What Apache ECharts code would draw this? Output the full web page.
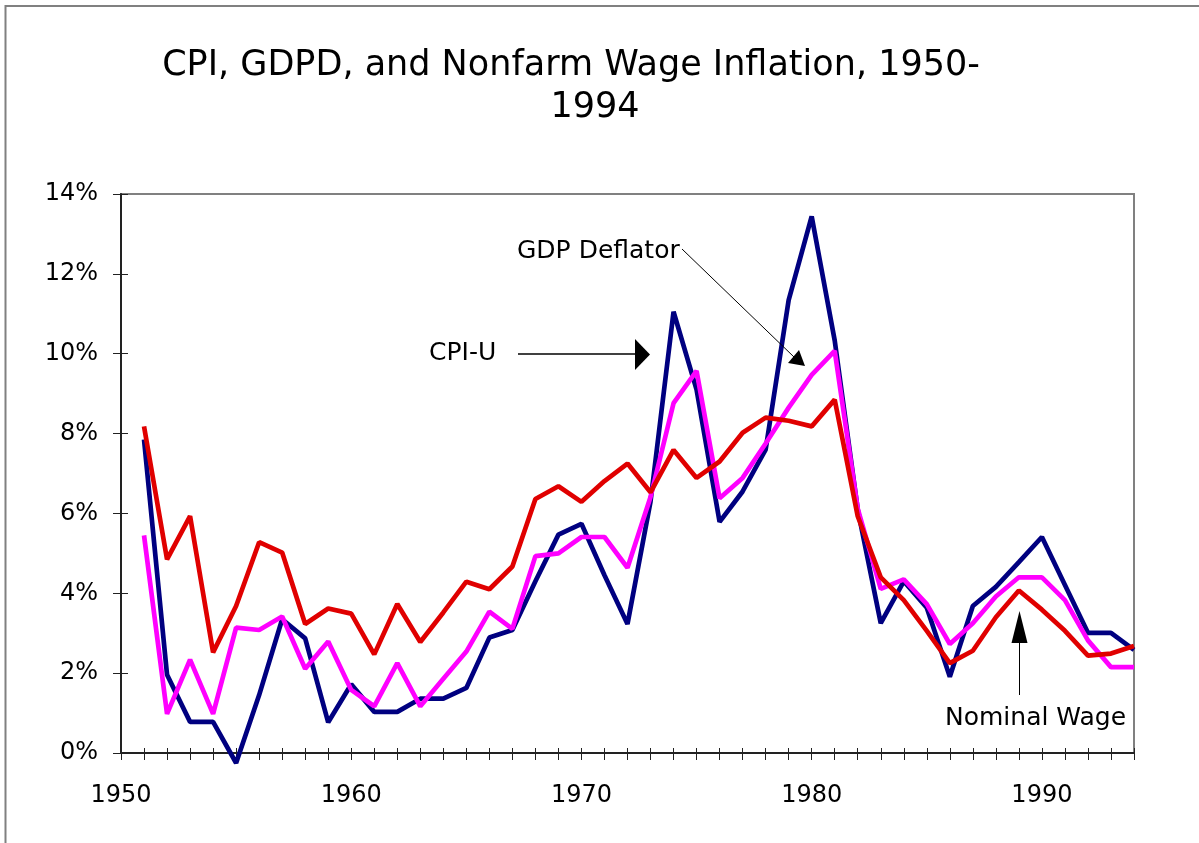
<!DOCTYPE html>
<html>
<head>
<meta charset="utf-8">
<script src="https://cdn.jsdelivr.net/npm/echarts@6/dist/echarts.min.js"></script>
<style>
html,body{margin:0;padding:0;background:#fff;}
#chart{width:1199px;height:843px;}
</style>
</head>
<body>
<div id="chart"></div>
<script>
// Axis categories (years) and tick labels
const axisYears = ['1950','1951','1952','1953','1954','1955','1956','1957','1958','1959',
  '1960','1961','1962','1963','1964','1965','1966','1967','1968','1969',
  '1970','1971','1972','1973','1974','1975','1976','1977','1978','1979',
  '1980','1981','1982','1983','1984','1985','1986','1987','1988','1989',
  '1990','1991','1992','1993','1994'];
// Data years: 1951..1994
const dataYears = axisYears.slice(1);

// CPI-U inflation (%)
const cpiU = [7.85,1.96,0.78,0.78,-0.25,1.45,3.35,2.87,0.77,1.72,
  1.03,1.03,1.36,1.36,1.63,2.89,3.08,4.30,5.47,5.74,
  4.45,3.23,6.30,11.05,9.10,5.79,6.55,7.60,11.34,13.44,
  10.33,6.10,3.25,4.30,3.64,1.91,3.68,4.16,4.78,5.41,
  4.21,3.01,3.01,2.58];
// GDP deflator inflation (%)
const gdpDeflator = [5.45,0.98,2.34,0.98,3.14,3.08,3.42,2.11,2.79,1.58,
  1.17,2.25,1.17,1.86,2.54,3.54,3.11,4.93,5.00,5.41,
  5.41,4.64,6.41,8.76,9.57,6.38,6.89,7.75,8.65,9.47,
  10.07,6.12,4.11,4.35,3.73,2.73,3.25,3.92,4.40,4.40,
  3.83,2.82,2.15,2.15];
// Nominal nonfarm wage inflation (%)
const nominalWage = [8.18,4.85,5.93,2.52,3.68,5.28,5.02,3.23,3.62,3.49,
  2.47,3.73,2.78,3.52,4.29,4.10,4.67,6.36,6.68,6.29,
  6.81,7.25,6.53,7.59,6.89,7.30,8.02,8.40,8.32,8.18,
  8.85,5.93,4.40,3.83,3.06,2.25,2.56,3.40,4.07,3.59,
  3.06,2.44,2.49,2.68];

const FONT = 'DejaVu Sans';
const pairs = arr => arr.map((v, i) => [dataYears[i], v]);

const chart = echarts.init(document.getElementById('chart'), null, {renderer: 'canvas'});

const xBase = {
  type: 'category',
  data: axisYears,
  boundaryGap: false,
  position: 'bottom',
  gridIndex: 0
};
const yBase = {
  type: 'value',
  min: 0, max: 14, interval: 2,
  position: 'left',
  gridIndex: 0,
  splitLine: {show: false}
};

chart.setOption({
  animation: false,
  backgroundColor: '#ffffff',
  title: [
    {text: 'CPI, GDPD, and Nonfarm Wage Inflation, 1950-', left: 571, top: 48, textAlign: 'center', padding: 0,
     textStyle: {fontFamily: FONT, fontSize: 35, fontWeight: 'normal', color: '#000'}},
    {text: '1994', left: 595, top: 90, textAlign: 'center', padding: 0,
     textStyle: {fontFamily: FONT, fontSize: 35, fontWeight: 'normal', color: '#000'}}
  ],
  grid: {left: 121, top: 194, right: 65, bottom: 90, show: true,
         borderColor: '#808080', borderWidth: 2, backgroundColor: '#fff'},
  xAxis: [
    Object.assign({}, xBase, {
      axisLine: {lineStyle: {color: '#222', width: 2}},
      axisTick: {show: true, interval: 0, inside: false, length: 7, lineStyle: {color: '#222', width: 1}},
      axisLabel: {interval: 9, margin: 31, fontFamily: FONT, fontSize: 24, color: '#000'},
      splitLine: {show: false}
    }),
    Object.assign({}, xBase, {
      axisLine: {show: false},
      axisTick: {show: true, interval: 0, inside: true, length: 5, lineStyle: {color: '#222', width: 1}},
      axisLabel: {show: false},
      splitLine: {show: false}
    })
  ],
  yAxis: [
    Object.assign({}, yBase, {
      axisLine: {show: true, lineStyle: {color: '#222', width: 2}},
      axisTick: {show: true, inside: false, length: 8, lineStyle: {color: '#222', width: 1}},
      axisLabel: {formatter: '{value}%', margin: 23, fontFamily: FONT, fontSize: 24, color: '#000'}
    }),
    Object.assign({}, yBase, {
      axisLine: {show: false},
      axisTick: {show: true, inside: true, length: 7, lineStyle: {color: '#222', width: 1}},
      axisLabel: {show: false}
    })
  ],
  series: [
    {name: 'CPI-U', type: 'line', data: pairs(cpiU), xAxisIndex: 0, yAxisIndex: 0,
     showSymbol: false, clip: false, lineStyle: {color: '#000080', width: 4.7}, z: 2},
    {name: 'GDP Deflator', type: 'line', data: pairs(gdpDeflator), xAxisIndex: 0, yAxisIndex: 0,
     showSymbol: false, clip: false, lineStyle: {color: '#ff00ff', width: 4.7}, z: 3},
    {name: 'Nominal Wage', type: 'line', data: pairs(nominalWage), xAxisIndex: 0, yAxisIndex: 0,
     showSymbol: false, clip: false, lineStyle: {color: '#e00000', width: 4.7}, z: 4}
  ],
  graphic: [
    {type: 'rect', shape: {x: 5.5, y: 6, width: 1400, height: 1000}, silent: true, z: -10,
     style: {fill: 'none', stroke: '#808080', lineWidth: 2}},
    {type: 'text', x: 517, y: 251, z: 100,
     style: {text: 'GDP Deflator', font: '25px "DejaVu Sans"', fill: '#000', textVerticalAlign: 'middle', verticalAlign: 'middle'}},
    {type: 'line', z: 100, shape: {x1: 682, y1: 249, x2: 794, y2: 357}, style: {stroke: '#000', lineWidth: 1}},
    {type: 'polygon', z: 100, shape: {points: [[805, 366], [788, 363], [799, 350]]}, style: {fill: '#000'}},
    {type: 'text', x: 429, y: 353, z: 100,
     style: {text: 'CPI-U', font: '25px "DejaVu Sans"', fill: '#000', textVerticalAlign: 'middle', verticalAlign: 'middle'}},
    {type: 'line', z: 100, shape: {x1: 518, y1: 354, x2: 636, y2: 354}, style: {stroke: '#000', lineWidth: 1.5}},
    {type: 'polygon', z: 100, shape: {points: [[650, 354.5], [635, 339], [635, 370]]}, style: {fill: '#000'}},
    {type: 'text', x: 945, y: 718, z: 100,
     style: {text: 'Nominal Wage', font: '25px "DejaVu Sans"', fill: '#000', textVerticalAlign: 'middle', verticalAlign: 'middle'}},
    {type: 'line', z: 100, shape: {x1: 1019.5, y1: 695, x2: 1019.5, y2: 640}, style: {stroke: '#000', lineWidth: 1}},
    {type: 'polygon', z: 100, shape: {points: [[1019.5, 611], [1011.5, 643], [1027.5, 643]]}, style: {fill: '#000'}}
  ]
});
</script>
</body>
</html>
